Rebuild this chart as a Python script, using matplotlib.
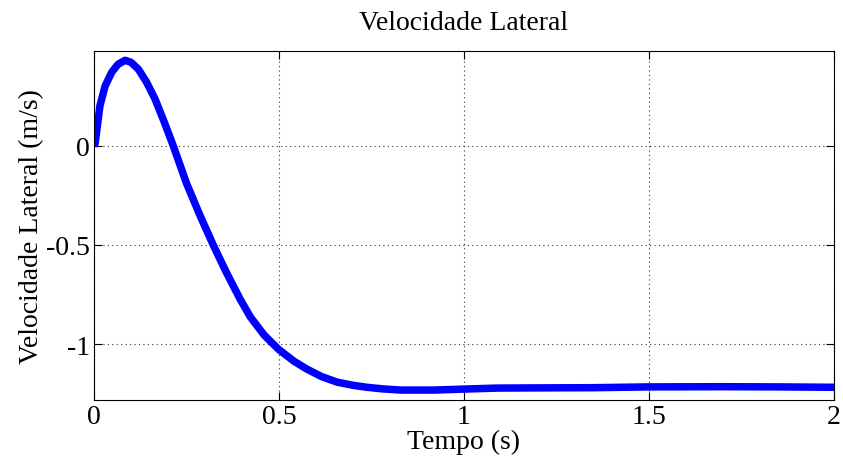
import matplotlib
matplotlib.use("Agg")
import matplotlib.pyplot as plt
from matplotlib.ticker import FixedLocator, FixedFormatter

time_s = [0.0, 0.003, 0.016, 0.03, 0.048, 0.065, 0.084, 0.10, 0.12, 0.142, 0.165,
          0.19, 0.214, 0.25, 0.286, 0.322, 0.358, 0.395, 0.422, 0.46, 0.499,
          0.54, 0.575, 0.615, 0.657, 0.70, 0.738, 0.78, 0.829, 0.919, 1.0,
          1.09, 1.2, 1.35, 1.5, 1.7, 1.85, 2.0]
lateral_velocity = [0.0, 0.01, 0.20, 0.30, 0.37, 0.41, 0.43, 0.42, 0.385, 0.32, 0.235,
                    0.118, 0.0, -0.19, -0.35, -0.50, -0.64, -0.774, -0.862, -0.955, -1.027,
                    -1.086, -1.126, -1.164, -1.192, -1.208, -1.218, -1.226, -1.232, -1.232, -1.227,
                    -1.222, -1.221, -1.220, -1.216, -1.215, -1.216, -1.218]

x_ticks = [0, 0.5, 1, 1.5, 2]
x_tick_labels = ["0", "0.5", "1", "1.5", "2"]
y_ticks = [-1, -0.5, 0]
y_tick_labels = ["-1", "-0.5", "0"]

plt.rcParams['font.family'] = ['Liberation Serif', 'DejaVu Serif']

fig = plt.figure(figsize=(8.43, 4.64), dpi=100)
ax = fig.add_axes([0.1115, 0.1358, 0.8778, 0.7522])

ax.plot(time_s, lateral_velocity, color='#0000ff', lw=5.4, solid_joinstyle='round',
        solid_capstyle='butt')

ax.set_xlim(0, 2)
ax.set_ylim(-1.282, 0.477)
ax.xaxis.set_major_locator(FixedLocator(x_ticks))
ax.xaxis.set_major_formatter(FixedFormatter(x_tick_labels))
ax.yaxis.set_major_locator(FixedLocator(y_ticks))
ax.yaxis.set_major_formatter(FixedFormatter(y_tick_labels))

ax.grid(True, color='#333333', linestyle=(0, (1, 3)), linewidth=0.8)
ax.tick_params(direction='in', top=True, right=True, length=6, width=0.8,
               labelsize=20, pad=3)
for s in ax.spines.values():
    s.set_linewidth(0.8)

ax.set_xlabel("Tempo (s)", fontsize=20, labelpad=0)
ax.set_ylabel("Velocidade Lateral (m/s)", fontsize=20, labelpad=1)
ax.set_title("Velocidade Lateral", fontsize=20, pad=16)

fig.savefig("out.png", dpi=100)
